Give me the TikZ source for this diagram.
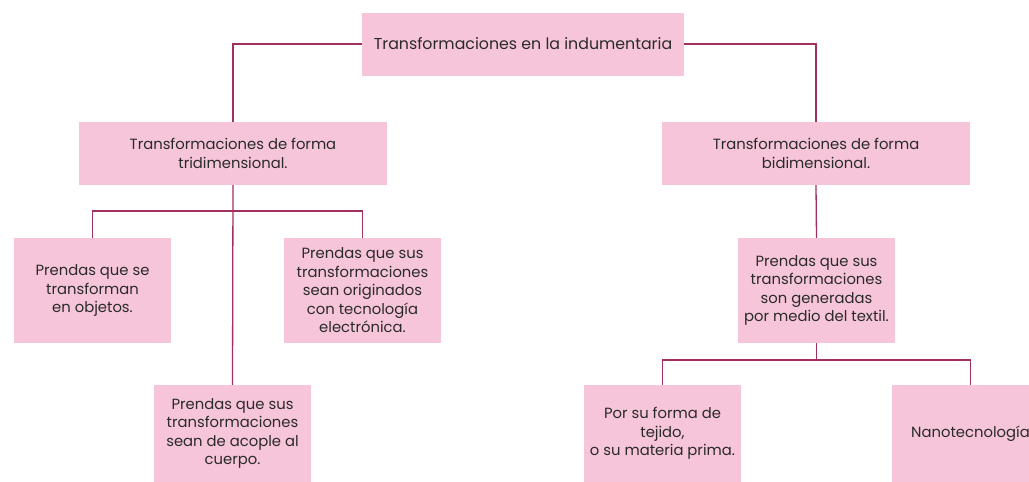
\documentclass[tikz,border=0pt]{standalone}
\usepackage{fontspec}
\setmainfont{Poppins}
\definecolor{boxpink}{HTML}{F6C5DA}
\definecolor{linered}{HTML}{A0305F}
\definecolor{txt}{HTML}{2A2A2A}
\begin{document}
\begin{tikzpicture}[x=1pt,y=-1pt,
  box/.style={rectangle,fill=boxpink,inner sep=0pt,align=center,text=txt,
    font=\fontsize{14.8}{18.5}\selectfont},
  conn/.style={draw=linered,line width=1.3pt}]
\useasboundingbox (0,0) rectangle (1029,482);
\fill[white] (0,0) rectangle (1029,482);
\node[box,minimum width=322pt,minimum height=63pt,font=\fontsize{15.8}{18.5}\selectfont] (top) at (523,44) {Transformaciones en la indumentaria};
\node[box,minimum width=308pt,minimum height=63pt] (tri) at (233,153.5) {Transformaciones de forma\\tridimensional.};
\node[box,minimum width=308pt,minimum height=63pt] (bi) at (816,153.5) {Transformaciones de forma\\bidimensional.};
\node[box,minimum width=157pt,minimum height=105pt] (obj) at (92.5,290.5) {Prendas que se\\transforman\\en objetos.};
\node[box,minimum width=157pt,minimum height=105pt] (elec) at (362.5,290.5) {Prendas que sus\\transformaciones\\sean originados\\con tecnología\\electrónica.};
\node[box,minimum width=157pt,minimum height=97pt] (acople) at (232.5,433.5) {Prendas que sus\\transformaciones\\sean de acople al\\cuerpo.};
\node[box,minimum width=157pt,minimum height=105pt] (textil) at (816.5,290.5) {Prendas que sus\\transformaciones\\son generadas\\por medio del textil.};
\node[box,minimum width=157pt,minimum height=97pt] (tejido) at (662.5,433.5) {Por su forma de\\tejido,\\o su materia prima.};
\node[box,minimum width=157pt,minimum height=97pt] (nano) at (970.5,433.5) {Nanotecnología};
\coordinate (j1) at (233,211);
\coordinate (j2) at (816.5,360);
\draw[conn] (top.west) -| (tri.north);
\draw[conn] (top.east) -| (bi.north);
\draw[conn] (tri.south) -- (acople.north);
\draw[conn] (obj.north) |- (j1) -| (elec.north);
\draw[conn] (bi.south) -- (textil.north);
\draw[conn] (textil.south) -- (j2);
\draw[conn] (tejido.north) |- (j2) -| (nano.north);
\end{tikzpicture}
\end{document}
